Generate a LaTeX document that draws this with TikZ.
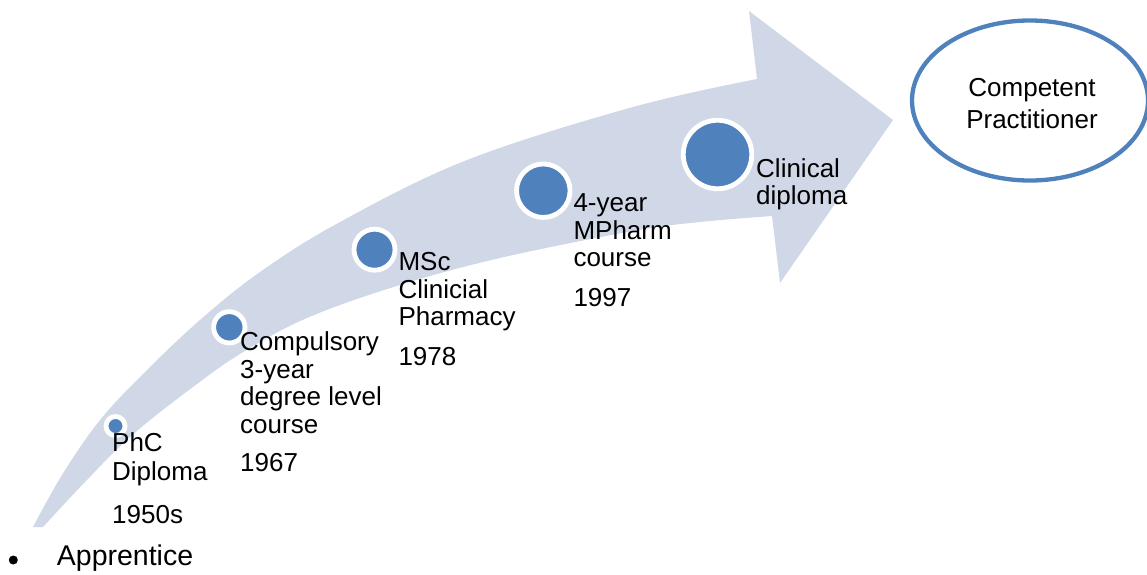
\documentclass[tikz,border=0pt]{standalone}
\usepackage{fontspec}
\setmainfont{Liberation Sans}
\usetikzlibrary{shapes.geometric}
\definecolor{bandfill}{RGB}{208,216,232}
\definecolor{dotblue}{RGB}{79,129,189}

\begin{document}
\begin{tikzpicture}[x=1pt,y=-1pt,
  stage/.style={circle,fill=dotblue,draw=white,line width=4.8pt,inner sep=0pt},
  stagetext/.style={anchor=north west,inner sep=0pt,align=left,
    font=\fontsize{26}{27.5}\selectfont},
]
\useasboundingbox (0,0) rectangle (1147,574);

% curved timeline arrow
\fill[bandfill]
  plot[smooth,tension=0.6] coordinates {(33,527) (62,475) (100,420) (145,372)
    (200,320) (260,272) (340,222) (467,160) (633,107) (757,79)}
  -- (749,11) -- (893,120) -- (780,283) -- (772,216)
  -- plot[smooth,tension=0.6] coordinates {(772,216) (700,222) (633,231) (500,258)
    (400,285) (307,318) (240,354) (185,393) (130,437) (85,482) (43,527)}
  -- cycle;

% milestones along the arrow
\node[stage,minimum size=19pt]   (phc)  at (115.5,426)   {};
\node[stage,minimum size=31.3pt] (deg)  at (229.3,327.3) {};
\node[stage,minimum size=41pt]   (msc)  at (374.5,249.7) {};
\node[stage,minimum size=53.5pt] (mph)  at (543.3,190.7) {};
\node[stage,minimum size=68.5pt] (clin) at (717.5,154.5) {};

% milestone captions
\node[stagetext,font=\fontsize{26}{29.5}\selectfont] (phct) at (112,432)
  {PhC\\Diploma\\[13.5pt]1950s};
\node[stagetext] (degt) at (240,331.5)
  {Compulsory\\3-year\\degree level\\course\\[11pt]1967};
\node[stagetext] (msct) at (398.3,252.3)
  {MSc\\Clinicial\\Pharmacy\\[12.5pt]1978};
\node[stagetext] (mpht) at (573.3,193.8)
  {4-year\\MPharm\\course\\[12pt]1997};
\node[stagetext] (clint) at (756,158)
  {Clinical\\diploma};

% goal
\node[ellipse,draw=dotblue,line width=4.3pt,minimum width=236pt,
  minimum height=160pt,inner sep=0pt] (goal) at (1030,100.5) {};
\node[align=center,inner sep=0pt,font=\fontsize{26}{32}\selectfont]
  (goalt) at (1032,104) {Competent\\Practitioner};

% bullet item below the arrow
\fill (13.3,560) circle (4.5pt);
\node[anchor=base west,inner sep=0pt,font=\fontsize{28.5}{32}\selectfont]
  (appr) at (56.7,565.7) {Apprentice};
\end{tikzpicture}
\end{document}
